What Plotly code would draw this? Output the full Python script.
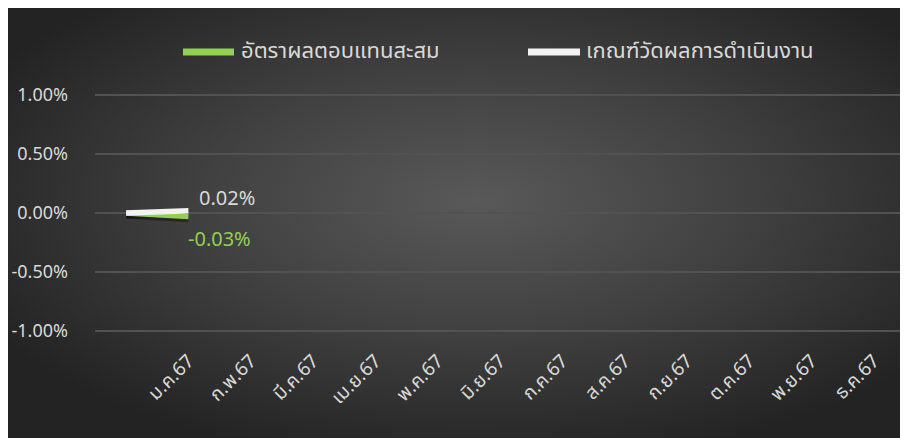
import base64
import plotly.graph_objects as go

# ---- data ----
months = [" ", "ม.ค.67", "ก.พ.67", "มี.ค.67", "เม.ย.67", "พ.ค.67", "มิ.ย.67",
          "ก.ค.67", "ส.ค.67", "ก.ย.67", "ต.ค.67", "พ.ย.67", "ธ.ค.67"]
fund_x = [" ", "ม.ค.67"]
fund_return = [0.0, -0.03]          # อัตราผลตอบแทนสะสม (%)
bench_return = [0.0, 0.02]          # เกณฑ์วัดผลการดำเนินงาน (%)
fund_label = "-0.03%"
bench_label = "0.02%"
y_ticks = [1.0, 0.5, 0.0, -0.5, -1.0]
y_tick_text = ["1.00%", "0.50%", "0.00%", "-0.50%", "-1.00%"]
series_names = ["อัตราผลตอบแทนสะสม", "เกณฑ์วัดผลการดำเนินงาน"]

GREEN = "#92D050"
WHITE = "#F2F2F2"
TXT = "#D9D9D9"
FONT = "Noto Sans Thai, Loma, Garuda, Kinnari, Noto Sans, sans-serif"

# ---- geometry (figure placed at page offset 8px) ----
W, H = 900, 430
ML, MR, MT, MB = 87, 3, 62, 93
pw, ph = W - ML - MR, H - MT - MB
OFF = 8


def px(p):  # page x -> paper x
    return (p - OFF - ML) / pw


def py(q):  # page y -> paper y
    return (H - MB - (q - OFF)) / ph


# ---- background gradient (svg) ----
svg = """<svg xmlns='http://www.w3.org/2000/svg' width='900' height='430' preserveAspectRatio='none'>
<defs><radialGradient id='g' cx='52%' cy='45%' r='62%'>
<stop offset='0%' stop-color='#595959'/>
<stop offset='50%' stop-color='#404040'/>
<stop offset='100%' stop-color='#232323'/>
</radialGradient></defs>
<rect x='0' y='0' width='900' height='430' fill='url(#g)'/></svg>"""
bg_uri = "data:image/svg+xml;base64," + base64.b64encode(svg.encode()).decode()

fig = go.Figure()

# shadows
for ys in (fund_return, bench_return):
    fig.add_trace(go.Scatter(x=fund_x, y=[v - 0.014 for v in ys], mode="lines",
                             line=dict(color="rgba(0,0,0,0.35)", width=8),
                             showlegend=False, hoverinfo="skip"))

fig.add_trace(go.Scatter(x=fund_x, y=fund_return, mode="lines",
                         name=series_names[0], showlegend=False,
                         line=dict(color=GREEN, width=5.5)))
fig.add_trace(go.Scatter(x=fund_x, y=bench_return, mode="lines",
                         name=series_names[1], showlegend=False,
                         line=dict(color=WHITE, width=5.5)))

annotations = [
    dict(x=fund_x[-1], y=bench_return[-1], xref="x", yref="y", text=bench_label,
         showarrow=False, xanchor="left", yanchor="middle", xshift=9, yshift=12,
         font=dict(size=20, color=TXT, family=FONT)),
    dict(x=fund_x[-1], y=fund_return[-1], xref="x", yref="y", text=fund_label,
         showarrow=False, xanchor="left", yanchor="middle", xshift=-2, yshift=-23,
         font=dict(size=20, color=GREEN, family=FONT)),
    dict(x=px(239), y=py(51), xref="paper", yref="paper", text=series_names[0],
         showarrow=False, xanchor="left", yanchor="middle",
         font=dict(size=22, color=TXT, family=FONT)),
    dict(x=px(584), y=py(51), xref="paper", yref="paper", text=series_names[1],
         showarrow=False, xanchor="left", yanchor="middle",
         font=dict(size=22, color=TXT, family=FONT)),
]
shapes = [
    dict(type="line", xref="paper", yref="paper", x0=px(183), x1=px(234),
         y0=py(52), y1=py(52), line=dict(color=GREEN, width=7)),
    dict(type="line", xref="paper", yref="paper", x0=px(528), x1=px(580),
         y0=py(52), y1=py(52), line=dict(color=WHITE, width=7)),
]

fig.update_layout(
    width=W, height=H,
    margin=dict(l=ML, r=MR, t=MT, b=MB),
    paper_bgcolor="#2a2a2a",
    plot_bgcolor="rgba(0,0,0,0)",
    font=dict(family=FONT, color=TXT, size=16),
    images=[dict(source=bg_uri, xref="paper", yref="paper",
                 x=-ML / pw, y=(H - MB) / ph, sizex=W / pw, sizey=H / ph,
                 sizing="stretch", layer="below",
                 xanchor="left", yanchor="top")],
    annotations=annotations,
    shapes=shapes,
    showlegend=False,
)
fig.update_xaxes(type="category", categoryorder="array", categoryarray=months,
                 range=[-0.5, 12.5], tickangle=-45, showgrid=False, zeroline=False,
                 showline=False, ticks="", tickfont=dict(size=19, color=TXT, family=FONT),
                 tickvals=months, ticktext=months)
fig.update_yaxes(range=[-1.0 - 14 / 118, 1.0 + 25 / 118], tickvals=y_ticks,
                 ticktext=y_tick_text, showgrid=True, gridcolor="#525252", gridwidth=1.5,
                 zeroline=False, showline=False, ticks="", ticklabelstandoff=26,
                 tickfont=dict(size=18, color=TXT, family=FONT))

fig.write_html("out.html")
